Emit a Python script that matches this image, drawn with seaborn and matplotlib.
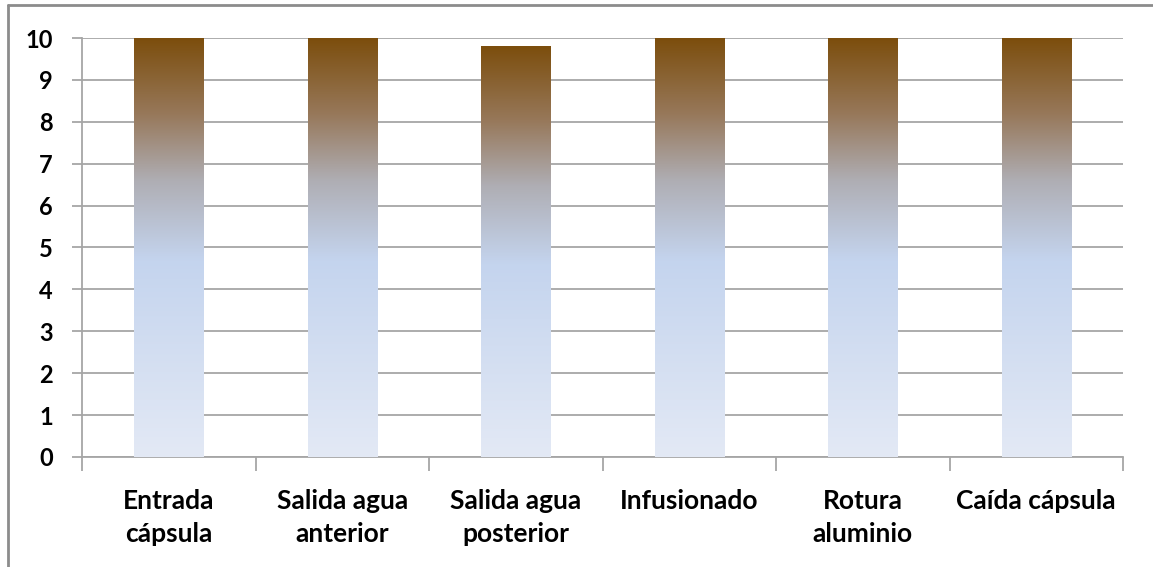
import numpy as np
import pandas as pd
import matplotlib
matplotlib.use("Agg")
import matplotlib.pyplot as plt
import seaborn as sns
from matplotlib.colors import LinearSegmentedColormap
from matplotlib.lines import Line2D

categories = ["Entrada\ncápsula", "Salida agua\nanterior", "Salida agua\nposterior",
              "Infusionado", "Rotura\naluminio", "Caída cápsula"]
values = [10, 10, 9.8, 10, 10, 10]
yticks = [0, 1, 2, 3, 4, 5, 6, 7, 8, 9, 10]

sns.set_theme(style="white")
plt.rcParams['font.family'] = ['Lato', 'DejaVu Sans']

fig = plt.figure(figsize=(11.53, 5.67), dpi=100)
ax = fig.add_axes([82/1153, 1-457/567, (1123-82)/1153, (457-38)/567])

df = pd.DataFrame({"cat": categories, "val": values})
sns.barplot(data=df, x="cat", y="val", ax=ax, width=0.4, color="#C5D5EE",
            edgecolor="none", linewidth=0, zorder=2)

cmap = LinearSegmentedColormap.from_list("grad", [
    (0.0, "#E3E9F5"),
    (0.47, "#C4D4EE"),
    (0.66, "#AFAEB4"),
    (0.82, "#97785A"),
    (1.0, "#7C4E0D"),
])
grad = np.linspace(0, 1, 256).reshape(-1, 1)
for p in ax.patches:
    x0, y0 = p.get_x(), p.get_y()
    w, h = p.get_width(), p.get_height()
    im = ax.imshow(grad, cmap=cmap, origin="lower", aspect="auto",
                   extent=[x0, x0 + w, y0, y0 + h], zorder=3)
    im.set_clip_path(p)
    p.set_facecolor("none")

ax.set_xlim(-0.5, len(categories) - 0.5)
ax.set_ylim(0, 10)
ax.set_yticks(yticks)
ax.set_yticklabels([str(t) for t in yticks], fontsize=17, fontweight="bold")
ax.yaxis.grid(True, color="#A6A6A6", linewidth=1.3, zorder=0)
ax.set_axisbelow(True)
ax.set_xlabel("")
ax.set_ylabel("")

for s in ["top", "right"]:
    ax.spines[s].set_visible(False)
ax.spines["left"].set_color("#A6A6A6")
ax.spines["bottom"].set_color("#A6A6A6")
ax.spines["left"].set_linewidth(1.3)
ax.spines["bottom"].set_linewidth(1.3)

ax.tick_params(axis="y", which="major", left=True, length=7, width=1.3,
               color="#A6A6A6", pad=14, labelcolor="black")
ax.set_xticks(np.arange(len(categories)))
ax.set_xticklabels(categories, fontsize=19, fontweight="bold", linespacing=1.45)
ax.tick_params(axis="x", which="major", bottom=False, pad=17, labelcolor="black")
ax.set_xticks(np.arange(len(categories) + 1) - 0.5, minor=True)
ax.tick_params(axis="x", which="minor", bottom=True, length=10, width=1.3,
               color="#A6A6A6")
for lbl in ax.get_xticklabels():
    lbl.set_verticalalignment("top")

fig.add_artist(Line2D([7.5/1153, 1], [1-4.5/567, 1-4.5/567], transform=fig.transFigure,
                      color="#8C8C8C", linewidth=2))
fig.add_artist(Line2D([7.5/1153, 7.5/1153], [0, 1-4.5/567], transform=fig.transFigure,
                      color="#8C8C8C", linewidth=2))

fig.savefig("out.png", dpi=100, facecolor="white")
